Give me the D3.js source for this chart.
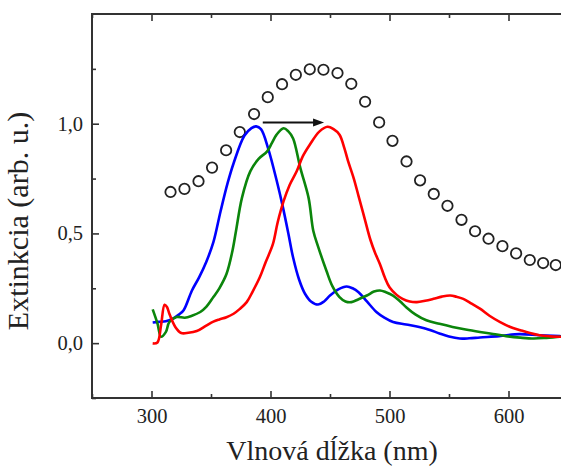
<!DOCTYPE html>
<html>
<head>
<meta charset="utf-8">
<script src="https://cdn.jsdelivr.net/npm/d3@7"></script>
<style>
    body { margin: 0; background: #fff; }
    svg { display: block; }
    text { font-family: "Liberation Serif", "Times New Roman", serif; fill: #222; }
</style>
</head>
<body>
<svg id="chart" width="561" height="468"></svg>
<script>
// data
var xMajor = [300, 400, 500, 600];
var xMinor = [250, 350, 450, 550, 650];
var yMajor = [0, 0.5, 1.0];
var yMinor = [-0.25, 0.25, 0.75, 1.25];

var blueNm = [301, 306, 312, 318, 323, 327, 334, 340, 346, 352, 358, 364, 369, 378, 384, 388, 392, 398, 406, 410, 415, 419, 424, 429, 434, 440, 445, 450, 457, 464, 469, 474, 481, 489, 496, 503, 514, 525, 534, 542, 550, 559, 567, 576, 592, 609, 626, 643, 650];
var blueExt = [0.094, 0.097, 0.100, 0.112, 0.13, 0.15, 0.24, 0.30, 0.37, 0.46, 0.60, 0.73, 0.82, 0.945, 0.98, 0.988, 0.975, 0.888, 0.723, 0.63, 0.50, 0.39, 0.29, 0.225, 0.19, 0.176, 0.19, 0.217, 0.245, 0.258, 0.25, 0.232, 0.19, 0.142, 0.115, 0.096, 0.085, 0.074, 0.06, 0.044, 0.03, 0.021, 0.022, 0.026, 0.032, 0.041, 0.036, 0.032, 0.03];

var greenNm = [301, 305, 308, 312, 315, 321, 328, 334, 341, 346, 352, 357, 363, 368, 371, 376, 383, 390, 397, 401, 405, 411, 415, 419, 425, 432, 436, 440, 447, 452, 458, 463, 468, 474, 481, 487, 492, 497, 503, 509, 514, 522, 531, 542, 553, 564, 576, 587, 598, 610, 621, 632, 643, 650];
var greenExt = [0.154, 0.09, 0.029, 0.05, 0.096, 0.119, 0.116, 0.125, 0.142, 0.165, 0.21, 0.25, 0.315, 0.42, 0.511, 0.662, 0.783, 0.84, 0.873, 0.91, 0.949, 0.979, 0.965, 0.933, 0.80, 0.662, 0.511, 0.44, 0.33, 0.26, 0.21, 0.19, 0.187, 0.2, 0.217, 0.235, 0.24, 0.232, 0.217, 0.19, 0.164, 0.13, 0.104, 0.088, 0.074, 0.062, 0.051, 0.042, 0.032, 0.025, 0.021, 0.024, 0.029, 0.03];

var redNm = [301, 305, 308, 311, 313, 315, 320, 325, 331, 338, 346, 352, 357, 363, 369, 374, 380, 385, 391, 396, 402, 406, 411, 416, 422, 427, 433, 441, 448, 453, 458, 462, 465, 470, 474, 479, 484, 488, 492, 496, 500, 506, 511, 517, 523, 530, 537, 544, 551, 556, 562, 569, 576, 584, 593, 601, 610, 618, 626, 635, 643, 650];
var redExt = [-0.001, 0.003, 0.08, 0.175, 0.165, 0.134, 0.074, 0.046, 0.047, 0.055, 0.08, 0.098, 0.108, 0.118, 0.134, 0.155, 0.187, 0.235, 0.3, 0.37, 0.451, 0.55, 0.647, 0.72, 0.783, 0.85, 0.904, 0.964, 0.986, 0.975, 0.95, 0.89, 0.833, 0.75, 0.67, 0.57, 0.47, 0.41, 0.36, 0.3, 0.255, 0.22, 0.202, 0.19, 0.187, 0.193, 0.202, 0.212, 0.217, 0.212, 0.202, 0.18, 0.157, 0.125, 0.096, 0.075, 0.059, 0.046, 0.036, 0.031, 0.029, 0.028];

var dotNm = [316, 327.7, 339.5, 350.9, 362.7, 374.2, 386.2, 397.7, 409.7, 421.3, 433, 444.5, 456.3, 467.9, 479.5, 491.3, 502.5, 514.3, 525.7, 537.2, 548.7, 560.5, 571.9, 583.2, 594.9, 606.4, 617.9, 629.1, 639.7, 651];
var dotExt = [0.689, 0.703, 0.738, 0.800, 0.879, 0.962, 1.044, 1.121, 1.180, 1.223, 1.248, 1.246, 1.231, 1.182, 1.100, 1.006, 0.922, 0.828, 0.742, 0.680, 0.626, 0.562, 0.510, 0.476, 0.442, 0.409, 0.379, 0.365, 0.356, 0.35];

var arrowNm = [393.5, 445];
var arrowExt = [1.006, 1.006];

var svg = d3.select("#chart");
var padL = 92, padR = 568, padT = 14, padB = 398;

var x = d3.scaleLinear().domain([250, 650]).range([padL, padR]);
var y = d3.scaleLinear().domain([-0.25, 1.5]).range([padB, padT]);

var comma = function (d) { return d3.format(".1f")(d).replace(".", ","); };

// ticks, all pointing inwards
svg.append("g").attr("class", "xlab").attr("transform", "translate(0," + padB + ")")
    .call(d3.axisBottom(x).tickValues(xMajor).tickSize(-7).tickPadding(10.5).tickFormat(d3.format("d")));
svg.append("g").attr("transform", "translate(0," + padB + ")")
    .call(d3.axisBottom(x).tickValues(xMinor).tickSize(-4).tickFormat(""));
svg.append("g").attr("transform", "translate(0," + padT + ")")
    .call(d3.axisTop(x).tickValues(xMajor).tickSize(-7).tickFormat(""));
svg.append("g").attr("transform", "translate(0," + padT + ")")
    .call(d3.axisTop(x).tickValues(xMinor).tickSize(-4).tickFormat(""));
svg.append("g").attr("class", "ylab").attr("transform", "translate(" + padL + ",0)")
    .call(d3.axisLeft(y).tickValues(yMajor).tickSize(-7).tickPadding(9).tickFormat(comma));
svg.append("g").attr("transform", "translate(" + padL + ",0)")
    .call(d3.axisLeft(y).tickValues(yMinor).tickSize(-4).tickFormat(""));
svg.append("g").attr("transform", "translate(" + padR + ",0)")
    .call(d3.axisRight(y).tickValues(yMajor).tickSize(-7).tickFormat(""));
svg.append("g").attr("transform", "translate(" + padR + ",0)")
    .call(d3.axisRight(y).tickValues(yMinor).tickSize(-4).tickFormat(""));

svg.selectAll(".domain").remove();
svg.selectAll(".tick line").attr("stroke", "#333").attr("stroke-width", 1.6);
svg.selectAll(".tick text").style("font-size", "20.5px").attr("fill", "#222");
svg.selectAll(".ylab .tick text").attr("x", -9).attr("text-anchor", "end");

// frame
svg.append("rect")
    .attr("x", padL).attr("y", padT)
    .attr("width", padR - padL).attr("height", padB - padT)
    .attr("fill", "none").attr("stroke", "#333").attr("stroke-width", 2);

// circles
svg.append("g").selectAll("circle")
    .data(dotNm.map(function (d, i) { return [d, dotExt[i]]; }))
    .enter().append("circle")
    .attr("cx", d => x(d[0]))
    .attr("cy", d => y(d[1]))
    .attr("r", 5.2)
    .attr("fill", "none")
    .attr("stroke", "#222")
    .attr("stroke-width", 1.8);

// spectra
var line = d3.line()
    .x(d => x(d[0]))
    .y(d => y(d[1]))
    .curve(d3.curveCatmullRom.alpha(0.5));

var series = [
    { nm: blueNm, ext: blueExt, color: "#0000ff" },
    { nm: greenNm, ext: greenExt, color: "#0b850b" },
    { nm: redNm, ext: redExt, color: "#ff0000" }
];
series.forEach(function (s) {
    svg.append("path")
        .datum(s.nm.map(function (d, i) { return [d, s.ext[i]]; }))
        .attr("fill", "none")
        .attr("stroke", s.color)
        .attr("stroke-width", 2.6)
        .attr("stroke-linejoin", "round")
        .attr("d", line);
});

// arrow
var ax0 = x(arrowNm[0]), ax1 = x(arrowNm[1]), ay = y(arrowExt[0]);
svg.append("line")
    .attr("x1", ax0).attr("y1", ay)
    .attr("x2", ax1 - 8).attr("y2", ay)
    .attr("stroke", "#111").attr("stroke-width", 2);
svg.append("path")
    .attr("d", "M" + ax1 + "," + ay + "L" + (ax1 - 11) + "," + (ay - 4) + "L" + (ax1 - 11) + "," + (ay + 4) + "Z")
    .attr("fill", "#111");

// axis titles
svg.append("text")
    .attr("x", 332).attr("y", 460)
    .attr("text-anchor", "middle")
    .style("font-size", "28px")
    .text("Vlnová dĺžka (nm)");
svg.append("text")
    .attr("transform", "translate(28,221) rotate(-90)")
    .attr("text-anchor", "middle")
    .style("font-size", "30px")
    .text("Extinkcia (arb. u.)");
</script>
</body>
</html>
